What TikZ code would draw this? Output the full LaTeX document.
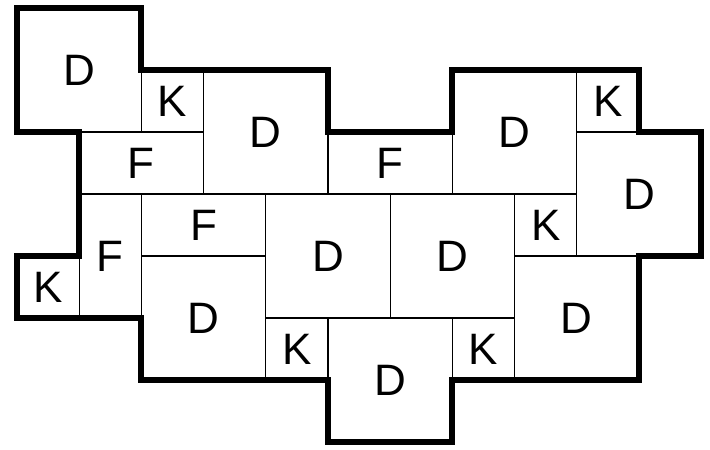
\documentclass[tikz,border=0pt]{standalone}
\usepackage{fontspec}
\setmainfont{Liberation Sans}
\begin{document}
\begin{tikzpicture}[x=62.2pt,y=-62pt,
  cell/.style={draw=black,line width=1.2pt},
  outline/.style={draw=black,line width=6pt,line join=miter},
  lab/.style={font=\fontsize{44}{44}\selectfont,inner sep=0pt}]
\useasboundingbox[fill=white] (-0.273,-0.129) rectangle (11.141,7.113);
% pieces
\draw[cell] (0,0) rectangle (2,2);
\draw[cell] (2,1) rectangle (3,2);
\draw[cell] (3,1) rectangle (5,3);
\draw[cell] (1,2) rectangle (3,3);
\draw[cell] (5,2) rectangle (7,3);
\draw[cell] (7,1) rectangle (9,3);
\draw[cell] (9,1) rectangle (10,2);
\draw[cell] (9,2) rectangle (11,4);
\draw[cell] (1,3) rectangle (2,5);
\draw[cell] (2,3) rectangle (4,4);
\draw[cell] (4,3) rectangle (6,5);
\draw[cell] (6,3) rectangle (8,5);
\draw[cell] (8,3) rectangle (9,4);
\draw[cell] (0,4) rectangle (1,5);
\draw[cell] (2,4) rectangle (4,6);
\draw[cell] (8,4) rectangle (10,6);
\draw[cell] (4,5) rectangle (5,6);
\draw[cell] (5,5) rectangle (7,7);
\draw[cell] (7,5) rectangle (8,6);
% labels
\node[lab] (d1) at (1,1) {D};
\node[lab] (k1) at (2.5,1.5) {K};
\node[lab] (d2) at (4,2) {D};
\node[lab] (f1) at (2,2.5) {F};
\node[lab] (f2) at (6,2.5) {F};
\node[lab] (d3) at (8,2) {D};
\node[lab] (k2) at (9.5,1.5) {K};
\node[lab] (d4) at (10,3) {D};
\node[lab] (f3) at (1.5,4) {F};
\node[lab] (f4) at (3,3.5) {F};
\node[lab] (d5) at (5,4) {D};
\node[lab] (d6) at (7,4) {D};
\node[lab] (k3) at (8.5,3.5) {K};
\node[lab] (k4) at (0.5,4.5) {K};
\node[lab] (d7) at (3,5) {D};
\node[lab] (d8) at (9,5) {D};
\node[lab] (k5) at (4.5,5.5) {K};
\node[lab] (d9) at (6,6) {D};
\node[lab] (k6) at (7.5,5.5) {K};
% outline
\draw[outline] (0,0) -- (2,0) -- (2,1) -- (5,1) -- (5,2) -- (7,2) -- (7,1) -- (10,1)
  -- (10,2) -- (11,2) -- (11,4) -- (10,4) -- (10,6) -- (7,6) -- (7,7) -- (5,7)
  -- (5,6) -- (2,6) -- (2,5) -- (0,5) -- (0,4) -- (1,4) -- (1,2) -- (0,2) -- cycle;
\end{tikzpicture}
\end{document}
